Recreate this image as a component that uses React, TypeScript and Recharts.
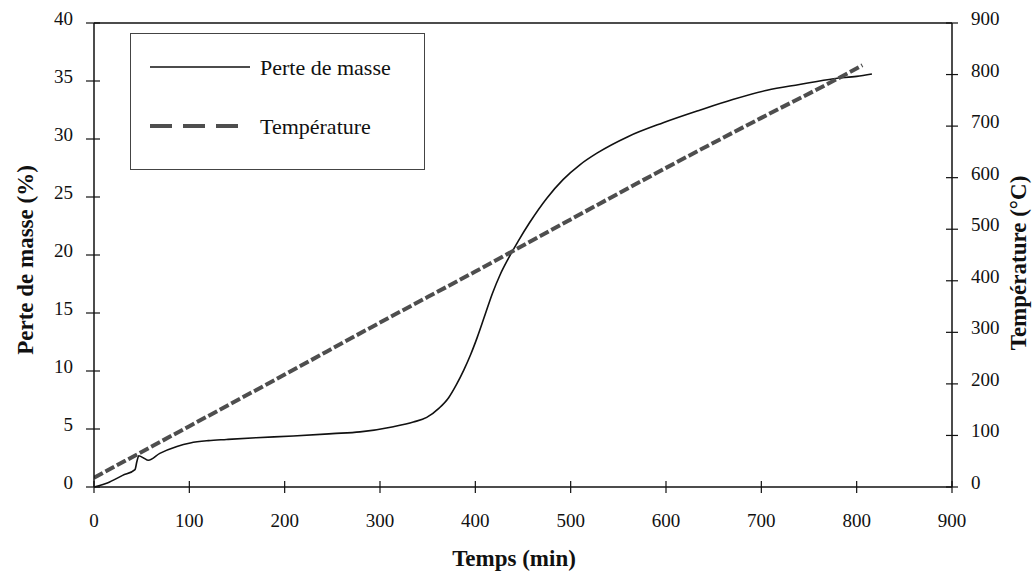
import {
  LineChart,
  Line,
  XAxis,
  YAxis,
  ReferenceLine,
  Legend,
} from 'recharts';

// perte de masse (%)
const massTime = [
  0, 5, 14, 30, 43, 45, 47, 52, 57, 69, 87, 101, 120, 139, 170, 209, 250, 279, 314, 335, 349, 362,
  372, 380, 388, 395, 402, 410, 418, 426, 434, 445, 457, 475, 492, 510, 528, 560, 597, 636, 670,
  706, 740, 776, 800, 816,
];
const massLoss = [
  0, 0.1, 0.35, 1.0, 1.5, 2.2, 2.7, 2.5, 2.3, 2.9, 3.5, 3.8, 4.0, 4.1, 4.25, 4.4, 4.6, 4.75, 5.2,
  5.6, 6.0, 6.8, 7.7, 8.8, 10.1, 11.4, 12.9, 14.8, 16.7, 18.3, 19.6, 21.2, 22.8, 24.9, 26.5, 27.8,
  28.8, 30.2, 31.4, 32.5, 33.4, 34.2, 34.7, 35.2, 35.4, 35.6,
];

// température (°C)
const tempTime = [0, 100, 200, 300, 400, 500, 600, 700, 780, 806];
const temperature = [18, 118, 218, 319, 418, 519, 619, 716, 792, 818];

const xTicks = [0, 100, 200, 300, 400, 500, 600, 700, 800, 900];
const leftTicks = [0, 5, 10, 15, 20, 25, 30, 35, 40];
const rightTicks = [0, 100, 200, 300, 400, 500, 600, 700, 800, 900];

const massData = massTime.map((t, i) => ({ t, masse: massLoss[i] }));
const tempData = tempTime.map((t, i) => ({ t, temp: temperature[i] }));

const textStyle = { fontFamily: 'Liberation Serif, Times New Roman, DejaVu Serif, serif' };

const BottomTick = (props: any) => {
  const { x, y, payload } = props;
  return (
    <g>
      <line x1={x} x2={x} y1={y - 6} y2={y + 6} stroke="#111" strokeWidth={1.2} />
      <text x={x} y={y + 40} textAnchor="middle" fontSize={19} style={textStyle} fill="#111">
        {payload.value}
      </text>
    </g>
  );
};

const LeftTick = (props: any) => {
  const { x, y, payload } = props;
  return (
    <g>
      <line x1={x - 8} x2={x + 6} y1={y} y2={y} stroke="#111" strokeWidth={1.2} />
      <text x={x - 21} y={y + 2} textAnchor="end" fontSize={19} style={textStyle} fill="#111">
        {payload.value}
      </text>
    </g>
  );
};

const RightTick = (props: any) => {
  const { x, y, payload } = props;
  return (
    <g>
      <line x1={x - 6} x2={x + 6} y1={y} y2={y} stroke="#111" strokeWidth={1.2} />
      <text x={x + 19} y={y + 2} textAnchor="start" fontSize={19} style={textStyle} fill="#111">
        {payload.value}
      </text>
    </g>
  );
};

const LegendBox = (props: any) => {
  const items = props.payload || [];
  return (
    <svg width={296} height={138} style={{ display: 'block' }}>
      <rect x={0.5} y={0.5} width={294} height={136} fill="#fff" stroke="#444" strokeWidth={1} />
      {items.map((item: any, i: number) => {
        const cy = 34 + i * 59;
        const dashed = item.payload?.strokeDasharray;
        return (
          <g key={item.value}>
            <line
              x1={20}
              x2={dashed ? 111 : 120}
              y1={cy}
              y2={cy}
              stroke={item.color}
              strokeWidth={dashed ? 4 : 1.5}
              strokeDasharray={dashed ? '22 11' : undefined}
            />
            <text x={130} y={cy} dominantBaseline="central" fontSize={22} style={textStyle} fill="#111">
              {item.value}
            </text>
          </g>
        );
      })}
    </svg>
  );
};

const titleProps = {
  textAnchor: 'middle' as const,
  dominantBaseline: 'central' as const,
  fontSize: 23,
  fontWeight: 'bold',
  fill: '#111',
  style: textStyle,
};

export default function App() {
  return (
    <div style={{ position: 'absolute', left: 0, top: 0, background: '#fff' }}>
      <LineChart width={1035} height={577} margin={{ top: 23, right: 0, bottom: 0, left: 0 }}>
        <XAxis
          dataKey="t"
          type="number"
          domain={[0, 900]}
          ticks={xTicks}
          height={90}
          tickSize={0}
          tickMargin={0}
          tickLine={false}
          tick={<BottomTick />}
          axisLine={{ stroke: '#111', strokeWidth: 1.5 }}
          allowDataOverflow
          label={{
            content: () => (
              <text x={514} y={558} {...titleProps}>
                Temps (min)
              </text>
            ),
          }}
        />
        <YAxis
          yAxisId="left"
          orientation="left"
          width={94}
          domain={[0, 40]}
          ticks={leftTicks}
          tickSize={0}
          tickMargin={0}
          tickLine={false}
          tick={<LeftTick />}
          axisLine={{ stroke: '#111', strokeWidth: 1.5 }}
          label={{
            content: () => (
              <text x={25} y={260} transform="rotate(-90 25 260)" {...titleProps}>
                Perte de masse (%)
              </text>
            ),
          }}
        />
        <YAxis
          yAxisId="right"
          orientation="right"
          width={83}
          domain={[0, 900]}
          ticks={rightTicks}
          tickSize={0}
          tickMargin={0}
          tickLine={false}
          tick={<RightTick />}
          axisLine={{ stroke: '#111', strokeWidth: 1.5 }}
          label={{
            content: () => (
              <text x={1018} y={263} transform="rotate(-90 1018 263)" {...titleProps}>
                Température (°C)
              </text>
            ),
          }}
        />
        <ReferenceLine yAxisId="left" y={40} stroke="#111" strokeWidth={1.5} />
        <Legend
          layout="vertical"
          align="center"
          verticalAlign="middle"
          content={<LegendBox />}
          wrapperStyle={{ position: 'absolute', left: 130, top: 33, width: 296, height: 138 }}
        />
        <Line
          yAxisId="left"
          data={massData}
          dataKey="masse"
          name="Perte de masse"
          type="monotone"
          stroke="#111"
          strokeWidth={1.6}
          dot={false}
          isAnimationActive={false}
        />
        <Line
          yAxisId="right"
          data={tempData}
          dataKey="temp"
          name="Température"
          type="monotone"
          stroke="#4e4e4e"
          strokeWidth={4}
          strokeDasharray="10 3"
          dot={false}
          isAnimationActive={false}
        />
      </LineChart>
    </div>
  );
}
